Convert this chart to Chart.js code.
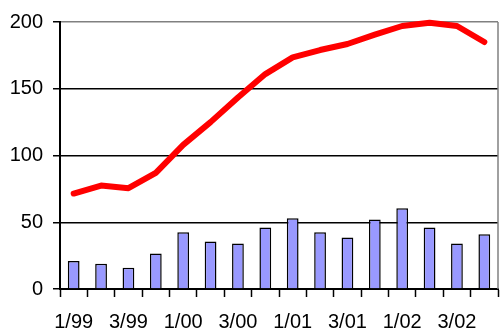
<!DOCTYPE html>
<html>
<head>
<meta charset="utf-8">
<script src="https://cdn.jsdelivr.net/npm/chart.js@4/dist/chart.umd.min.js"></script>
<style>
  html, body { margin: 0; padding: 0; background: #fff; }
  #wrap { width: 500px; height: 333px; position: relative; }
</style>
</head>
<body>
<div id="wrap"><canvas id="c"></canvas></div>
<script>
// Quarterly categories, 1999 Q1 through 2002 Q4
const quarters = ['1/99','2/99','3/99','4/99','1/00','2/00','3/00','4/00',
                  '1/01','2/01','3/01','4/01','1/02','2/02','3/02','4/02'];
// Bar series (per quarter)
const barValues = [21, 19, 16, 26.5, 42.5, 35.5, 34, 46, 53, 42.5, 38.5, 52, 60.5, 46, 34, 41];
// Line series (per quarter)
const lineValues = [71.5, 77.5, 75.5, 87, 108, 125, 143.5, 161, 173.5, 179, 183.5, 190.5, 197, 199.5, 197, 185];
// Value axis ticks
const yTicks = [0, 50, 100, 150, 200];

const FONT = { family: '"Liberation Sans", Arial, sans-serif', size: 20 };

// Gray frame on the right edge of the plot area
const rightEdge = {
  id: 'rightEdge',
  afterDraw(chart) {
    const { ctx, chartArea } = chart;
    ctx.save();
    ctx.strokeStyle = '#808080';
    ctx.lineWidth = 1.5;
    ctx.beginPath();
    ctx.moveTo(chartArea.right, chartArea.top);
    ctx.lineTo(chartArea.right, chartArea.bottom);
    ctx.stroke();
    ctx.restore();
  }
};

new Chart(document.getElementById('c'), {
  data: {
    labels: quarters,
    datasets: [
      {
        type: 'line',
        data: lineValues,
        borderColor: '#ff0000',
        borderWidth: 6,
        pointRadius: 0,
        tension: 0,
        borderCapStyle: 'round',
        borderJoinStyle: 'round',
        clip: false,
        order: 0
      },
      {
        type: 'bar',
        data: barValues,
        backgroundColor: '#9999ff',
        borderColor: '#000000',
        borderWidth: 1.5,
        barPercentage: 0.43,
        categoryPercentage: 1,
        order: 1
      }
    ]
  },
  options: {
    responsive: true,
    maintainAspectRatio: false,
    animation: false,
    layout: { padding: { top: 19, right: 2, left: 0, bottom: 0 } },
    plugins: { legend: { display: false }, tooltip: { enabled: false } },
    scales: {
      x: {
        offset: true,
        grid: {
          offset: true,
          drawOnChartArea: false,
          drawTicks: true,
          tickLength: 8,
          tickWidth: 1.5,
          tickColor: '#000'
        },
        border: { color: '#000', width: 2 },
        ticks: {
          autoSkip: false,
          maxRotation: 0,
          padding: 13,
          color: '#000',
          font: FONT,
          callback: (v, i) => (i % 2 === 0 ? quarters[i] : '')
        },
        afterFit: s => { s.height = 44; }
      },
      y: {
        min: 0,
        max: 200,
        afterBuildTicks: s => { s.ticks = yTicks.map(v => ({ value: v })); },
        grid: {
          color: c => (c.tick && c.tick.value === 200 ? '#808080' : '#000'),
          lineWidth: 1.5,
          drawTicks: true,
          tickLength: 7,
          tickColor: '#000'
        },
        border: { color: '#000', width: 2 },
        ticks: {
          padding: 10,
          color: '#000',
          font: FONT
        },
        afterFit: s => { s.width = 60; }
      }
    }
  },
  plugins: [rightEdge]
});
</script>
</body>
</html>
